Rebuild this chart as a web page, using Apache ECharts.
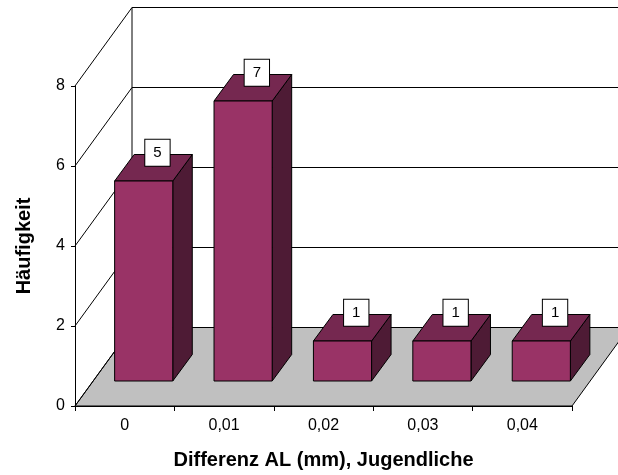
<!DOCTYPE html>
<html>
<head>
<meta charset="utf-8">
<script src="https://cdn.jsdelivr.net/npm/echarts@6/dist/echarts.min.js"></script>
<style>html,body{margin:0;padding:0;background:#fff;}#c{width:618px;height:475px;}</style>
</head>
<body>
<div id="c"></div>
<script>
var categories = ['0', '0,01', '0,02', '0,03', '0,04'];
var values = [5, 7, 1, 1, 1];
var yTicks = [0, 2, 4, 6, 8];
var xTitle = 'Differenz AL (mm), Jugendliche';
var yTitle = 'Häufigkeit';

var DX = 57, DY = -78.5;          // wall depth offset
var FX = 19, FY = -25;            // bar front offset from axis plane
var BX = 19.5, BY = -26.5;        // bar depth
var C_FRONT = '#993366', C_TOP = '#752850', C_SIDE = '#4e1b35';
var FONT = '"Liberation Sans", Arial, sans-serif';

var chart = echarts.init(document.getElementById('c'), null, {renderer: 'canvas'});

function frameItem(params, api) {
  var cs = params.coordSys;
  var x0 = cs.x, x1 = cs.x + cs.width;
  var y0 = api.coord([0, 0])[1];
  var children = [];
  children.push({
    type: 'polygon',
    shape: {points: [[x0, y0], [x0 + DX, y0 + DY], [x1 + DX, y0 + DY], [x1, y0]]},
    style: {fill: '#c0c0c0', stroke: '#000', lineWidth: 1}
  });
  yTicks.forEach(function (v) {
    var y = api.coord([0, v])[1];
    children.push({type: 'line', shape: {x1: x0 + DX, y1: y + DY, x2: x1 + DX + 20, y2: y + DY},
      style: {stroke: '#000', lineWidth: 1}});
    children.push({type: 'line', shape: {x1: x0, y1: y, x2: x0 + DX, y2: y + DY},
      style: {stroke: '#000', lineWidth: 1}});
  });
  var yTop = api.coord([0, yTicks[yTicks.length - 1]])[1];
  children.push({type: 'line', shape: {x1: x0 + DX, y1: y0 + DY, x2: x0 + DX, y2: yTop + DY},
    style: {stroke: '#000', lineWidth: 1}});
  return {type: 'group', children: children};
}

function barItem(params, api) {
  var i = api.value(0), v = api.value(1);
  var p0 = api.coord([i, 0]), p1 = api.coord([i, v]);
  var band = api.size([1, 0])[0];
  var w = band * 0.585;
  var xl = p0[0] - w / 2 + FX, xr = xl + w;
  var yb = p0[1] + FY, yt = p1[1] + FY;
  var st = {stroke: '#000', lineWidth: 1, lineJoin: 'round'};
  return {
    type: 'group',
    children: [
      {type: 'polygon', shape: {points: [[xr, yt], [xr + BX, yt + BY], [xr + BX, yb + BY], [xr, yb]]},
        style: Object.assign({fill: C_SIDE}, st)},
      {type: 'polygon', shape: {points: [[xl, yt], [xr, yt], [xr + BX, yt + BY], [xl + BX, yt + BY]]},
        style: Object.assign({fill: C_TOP}, st)},
      {type: 'rect', shape: {x: xl, y: yt, width: w, height: yb - yt},
        style: Object.assign({fill: C_FRONT}, st)},
      {type: 'text', z2: 10,
        style: {text: String(v), x: (xl + xr) / 2 + BX / 2 + 4, y: yt + BY / 2 - 15,
          align: 'center', verticalAlign: 'middle',
          font: '15px ' + FONT, fill: '#000',
          backgroundColor: '#fff', borderColor: '#000', borderWidth: 1, padding: [6, 8, 5, 8]}}
    ]
  };
}

var option = {
  animation: false,
  backgroundColor: '#fff',
  grid: {left: 75, right: 46, top: 86, bottom: 69},
  xAxis: {
    type: 'category', data: categories, boundaryGap: true,
    axisLine: {lineStyle: {color: '#000', width: 1}},
    axisTick: {show: true, length: 5, lineStyle: {color: '#000'}},
    axisLabel: {color: '#000', fontSize: 16, fontFamily: FONT, margin: 12},
    splitLine: {show: false},
    name: xTitle, nameLocation: 'middle', nameGap: 44,
    nameTextStyle: {color: '#000', fontSize: 20, fontWeight: 'bold', fontFamily: FONT}
  },
  yAxis: {
    type: 'value', min: 0, max: 8, interval: 2,
    axisLine: {show: true, lineStyle: {color: '#000', width: 1}},
    axisTick: {show: true, length: 4, lineStyle: {color: '#000'}},
    axisLabel: {color: '#000', fontSize: 16, fontFamily: FONT, margin: 10},
    splitLine: {show: false},
    name: yTitle, nameLocation: 'middle', nameGap: 41,
    nameTextStyle: {color: '#000', fontSize: 20, fontWeight: 'bold', fontFamily: FONT}
  },
  series: [
    {type: 'custom', coordinateSystem: 'cartesian2d', clip: false, z: 1, silent: true,
      data: [[0, 0]], renderItem: frameItem},
    {type: 'custom', coordinateSystem: 'cartesian2d', clip: false, z: 3,
      data: values.map(function (v, i) { return [i, v]; }), renderItem: barItem}
  ]
};
chart.setOption(option);
</script>
</body>
</html>
